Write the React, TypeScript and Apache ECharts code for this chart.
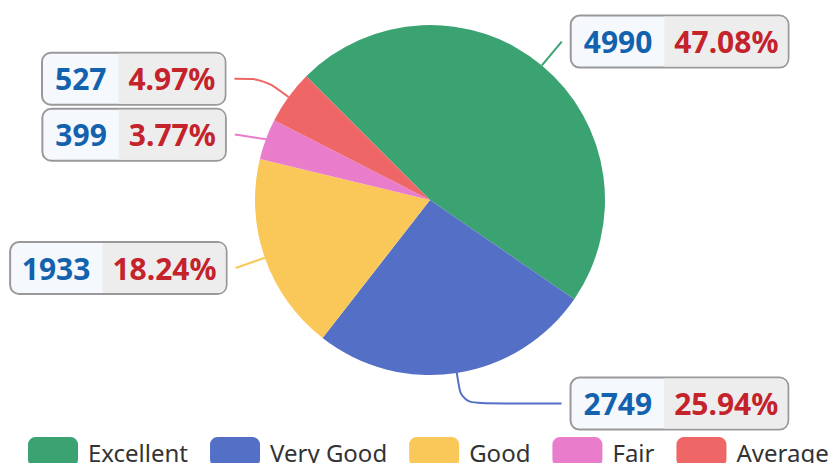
import React, { useEffect, useRef } from "react";
import * as echarts from "echarts";

const categories = ["Excellent", "Very Good", "Good", "Fair", "Average"];
const values = [4990, 2749, 1933, 399, 527];
const colors = ["#3BA272", "#5470C6", "#FAC858", "#EA7CCC", "#EE6666"];
// horizontal label-line tail for each slice, so that the line ends line up on each side
const tailLengths = [0, 100, 0, 2, 29];

export default function App() {
  const ref = useRef<HTMLDivElement>(null);
  useEffect(() => {
    document.body.style.margin = "0";
    const chart = echarts.init(ref.current!, null, { renderer: "svg" });
    chart.setOption({
      animation: false,
      color: colors,
      textStyle: { fontFamily: "Noto Sans" },
      legend: {
        data: categories,
        left: 23,
        top: 432,
        width: 1000,
        itemWidth: 50,
        itemHeight: 30,
        itemGap: 22,
        icon: "roundRect",
        textStyle: { fontSize: 24, color: "#333", padding: [0, 0, 0, 5], fontFamily: "Noto Sans" },
      },
      series: [
        {
          type: "pie",
          center: [430, 200],
          radius: 175,
          startAngle: 135,
          clockwise: true,
          data: categories.map((name, i) => ({
            name,
            value: values[i],
            labelLine: { length2: tailLengths[i] },
          })),
          label: {
            show: true,
            position: "outside",
            alignTo: "labelLine",
            distanceToLabelLine: 10,
            formatter: "{c|{c}}{per|{d}%}",
            padding: 0,
            backgroundColor: "#F5F8FC",
            borderColor: "#999999",
            borderWidth: 2,
            borderRadius: 8,
            rich: {
              c: {
                fontSize: 30,
                fontWeight: "bold",
                color: "#1262AE",
                height: 50,
                lineHeight: 50,
                padding: [0, 12, 0, 12],
                fontFamily: "Noto Sans",
              },
              per: {
                fontSize: 30,
                fontWeight: "bold",
                color: "#C4232B",
                height: 50,
                lineHeight: 50,
                backgroundColor: "#EDEDED",
                borderRadius: [0, 7, 7, 0],
                padding: [0, 9, 0, 10],
                fontFamily: "Noto Sans",
              },
            },
          },
          labelLine: {
            show: true,
            length: 31,
            length2: 0,
            smooth: 0.3,
            lineStyle: { width: 2 },
          },
        },
      ],
    });
    return () => chart.dispose();
  }, []);
  return <div ref={ref} style={{ width: 831, height: 463 }} />;
}
